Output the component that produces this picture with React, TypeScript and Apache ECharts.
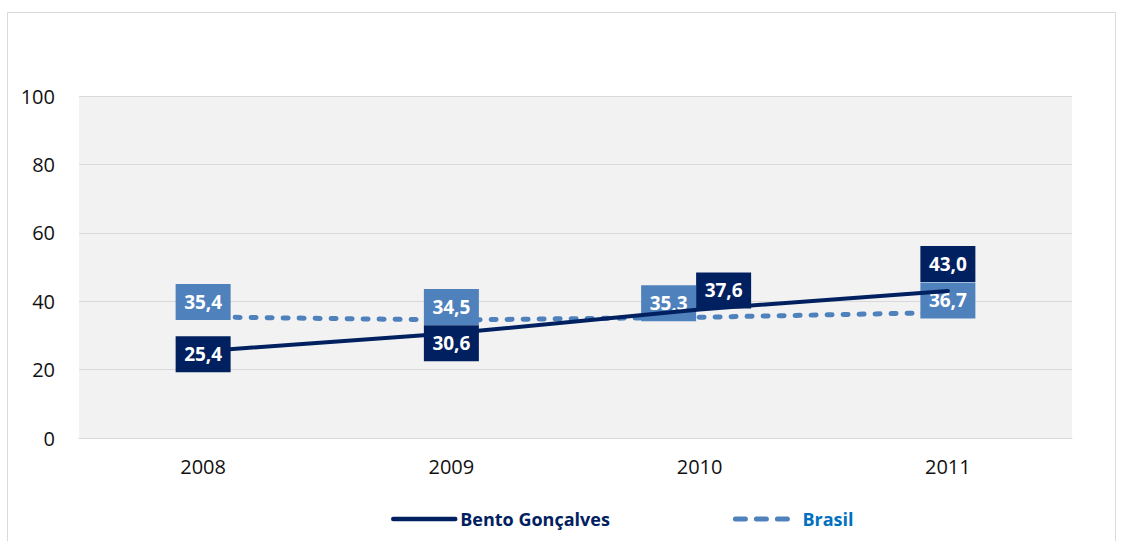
import React, { useEffect, useRef } from "react";
import * as echarts from "echarts";

const categories = ["2008", "2009", "2010", "2011"];
const bentoValues = [25.4, 30.6, 37.6, 43.0];
const brasilValues = [35.4, 34.5, 35.3, 36.7];
const yTicks = [0, 20, 40, 60, 80, 100];

const NAVY = "#002060";
const BLUE = "#4f81bd";
const FONT = "'Open Sans', 'Noto Sans', sans-serif";

const bentoOffsets = [[0, 3], [0, 10], [24, -19], [0, -27]];
const brasilOffsets = [[0, -15], [0, -13], [-31, -14], [0, -12]];

function fmt(v: number) {
  return v.toFixed(1).replace(".", ",");
}

export default function App() {
  const ref = useRef<HTMLDivElement>(null);
  useEffect(() => {
    if (!ref.current) return;
    const chart = echarts.init(ref.current, null, { renderer: "svg" });
    const labelBase = {
      show: true,
      position: "inside",
      color: "#ffffff",
      fontFamily: FONT,
      fontWeight: "bold",
      fontSize: 19,
      width: 55,
      height: 36,
      lineHeight: 36,
      align: "center",
      verticalAlign: "middle",
      formatter: (p: any) => fmt(p.value),
    };
    chart.setOption({
      animation: false,
      backgroundColor: "#ffffff",
      graphic: [
        {
          type: "rect",
          shape: { x: 7.5, y: 12.5, width: 1108, height: 560 },
          style: { fill: "none", stroke: "#d9d9d9", lineWidth: 1 },
          silent: true,
        },
      ],
      grid: { left: 79, right: 52, top: 96, bottom: 103, containLabel: false, show: true, backgroundColor: "#f2f2f2", borderWidth: 0 },
      legend: {
        left: 386,
        top: 505,
        itemWidth: 62,
        itemHeight: 14,
        itemGap: 123,
        itemStyle: { opacity: 0 },
        data: [
          { name: "Bento Gonçalves", textStyle: { color: NAVY }, lineStyle: { width: 4.5, cap: "round" } },
          { name: "Brasil", textStyle: { color: "#0070c0" }, lineStyle: { type: [10, 11], cap: "round", width: 5 } },
        ],
        textStyle: { fontFamily: FONT, fontWeight: "bold", fontSize: 18 },
      },
      xAxis: {
        type: "category",
        data: categories,
        boundaryGap: true,
        axisLine: { show: true, lineStyle: { color: "#d9d9d9", width: 1 } },
        axisTick: { show: false },
        axisLabel: { color: "#111", fontFamily: FONT, fontSize: 20, margin: 18 },
        splitLine: { show: false },
      },
      yAxis: {
        type: "value",
        min: yTicks[0],
        max: yTicks[yTicks.length - 1],
        interval: 20,
        axisLine: { show: false },
        axisTick: { show: false },
        axisLabel: { color: "#111", fontFamily: FONT, fontSize: 20, margin: 24 },
        splitLine: { show: true, lineStyle: { color: "#d9d9d9", width: 1 } },
      },
      series: [
        {
          name: "Bento Gonçalves",
          type: "line",
          symbol: "circle",
          symbolSize: 0.1,
          z: 3,
          lineStyle: { color: NAVY, width: 4, cap: "round" },
          itemStyle: { color: NAVY },
          data: bentoValues.map((v, i) => ({
            value: v,
            label: { ...labelBase, backgroundColor: NAVY, offset: bentoOffsets[i] },
          })),
        },
        {
          name: "Brasil",
          type: "line",
          symbol: "circle",
          symbolSize: 0.1,
          z: 2,
          lineStyle: { color: BLUE, width: 5, type: [5, 11], cap: "round" },
          itemStyle: { color: BLUE },
          data: brasilValues.map((v, i) => ({
            value: v,
            label: { ...labelBase, backgroundColor: BLUE, offset: brasilOffsets[i] },
          })),
        },
      ],
    });
    return () => chart.dispose();
  }, []);
  return <div ref={ref} style={{ position: "fixed", left: 0, top: 0, width: 1124, height: 541 }} />;
}
